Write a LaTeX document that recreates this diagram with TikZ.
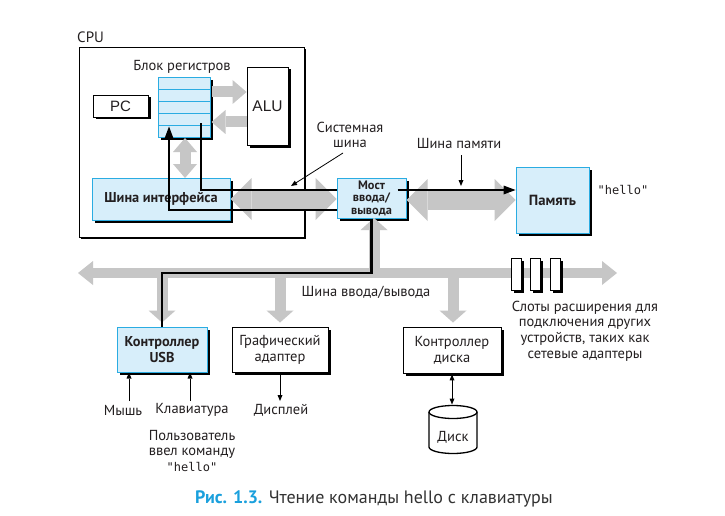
\documentclass[tikz,border=0pt]{standalone}
\usepackage{fontspec}
\setmainfont{PT Sans}
\newfontfamily\narrowsans{PT Sans}
\newfontfamily\arialfont{Liberation Sans}
\newfontfamily\codefont{DejaVu Sans Mono}
\usetikzlibrary{arrows.meta,shadows,calc}
\definecolor{boxfill}{HTML}{D7EEFA}
\definecolor{boxline}{HTML}{2AACE2}
\definecolor{busgray}{HTML}{C6C6C6}
\definecolor{txt}{HTML}{231F20}
\definecolor{capblue}{HTML}{1AA0DD}
\definecolor{capgray}{HTML}{333333}
\begin{document}
\begin{tikzpicture}[x=1pt,y=-1pt,
  shad/.style={drop shadow={shadow xshift=2.5pt,shadow yshift=-2.5pt,fill=black,opacity=1}},
  bluebox/.style={shad,draw=boxline,fill=boxfill,line width=1pt,inner sep=0pt,align=center,text=txt,font=\narrowsans\bfseries\fontsize{14.3}{15.5}\selectfont},
  whitebox/.style={shad,draw=black,fill=white,line width=0.9pt,inner sep=0pt,align=center,text=txt,font=\narrowsans\fontsize{14.5}{16}\selectfont},
  lbl/.style={inner sep=0pt,align=center,text=txt,font=\narrowsans\fontsize{14.5}{15.7}\selectfont},
  bigbus/.style={draw=busgray,line width=19pt,>={Triangle[length=21pt,width=42pt,line width=0pt]}},
  midbus/.style={draw=busgray,line width=11pt,>={Triangle[length=14pt,width=24pt,line width=0pt]}},
  dropbus/.style={draw=busgray,line width=11pt,>={Triangle[length=12pt,width=27pt,line width=0pt]}},
  blk/.style={draw=black,line width=2.2pt,>={Triangle[length=12pt,width=9pt,line width=0pt]}},
  thinarr/.style={draw=black,line width=0.8pt,>={Triangle[length=6pt,width=5pt,line width=0pt]}}
]
\useasboundingbox (0,0) rectangle (725,516);
\fill[white] (0,0) rectangle (725,516);

% CPU
\node[lbl,anchor=west,font=\narrowsans\fontsize{15}{16}\selectfont] (cpulabel) at (77,37) {CPU};
\node[draw=black,line width=1pt,fill=white,minimum width=225pt,minimum height=189pt,inner sep=0pt,
  drop shadow={shadow xshift=1.5pt,shadow yshift=-1.5pt,fill=black,opacity=1}] (cpu) at (191.5,142.5) {};

% register file
\node[lbl] (reglabel) at (182,67) {Блок регистров};
\node[shad,draw=boxline,fill=boxfill,line width=1pt,minimum width=52pt,minimum height=59pt,inner sep=0pt] (reg) at (184,107.5) {};
\foreach \yy in {89.8,101.6,113.4,125.2}
  \draw[boxline,line width=1pt] (158,\yy) -- (210,\yy);

\node[shad,draw=black,fill=white,line width=0.9pt,minimum width=55pt,minimum height=22pt,inner sep=0pt,
  font=\arialfont\fontsize{15}{16}\selectfont,text=txt] (pc) at (120.5,106) {PC};
\node[shad,draw=black,fill=white,line width=0.9pt,minimum width=41pt,minimum height=78pt,inner sep=0pt,
  font=\arialfont\fontsize{15.5}{16}\selectfont,text=txt] (alu) at (267.5,106) {ALU};

\node[bluebox,minimum width=138pt,minimum height=42pt] (bif) at (161,199) {Шина интерфейса};
\node[bluebox,minimum width=69pt,minimum height=40pt,font=\narrowsans\bfseries\fontsize{12.3}{12.5}\selectfont] (bridge) at (371.5,198) {Мост\\ввода/\\вывода};
\node[bluebox,minimum width=73pt,minimum height=66pt,font=\narrowsans\bfseries\fontsize{14.7}{16}\selectfont] (mem) at (552.5,200) {Память};
\node[lbl,font=\codefont\fontsize{12}{13}\selectfont] (memhello) at (623,190) {"hello"};

% I/O devices
\node[bluebox,minimum width=90pt,minimum height=45pt] (usb) at (162,349.5) {Контроллер\\USB};
\node[whitebox,minimum width=96pt,minimum height=45pt] (gfx) at (280,349.5) {Графический\\адаптер};
\node[whitebox,minimum width=98pt,minimum height=46pt] (dsk) at (452,350) {Контроллер\\диска};

% gray buses
\draw[midbus,->] ([xshift=1pt]reg.east |- 0,92) -- (alu.west |- 0,92);
\draw[midbus,->] (alu.west |- 0,122) -- ([xshift=1pt]reg.east |- 0,122);
\draw[midbus,<->] (185,138) -- (185,178);
\draw[bigbus,<->] (bif.east) -- (bif.east -| bridge.west);
\draw[bigbus,<->] (bridge.east |- 0,200) -- (mem.west);
\coordinate (iobusL) at (78,273);
\coordinate (iobusR) at (617,273);
\draw[dropbus,->] (374,273) -- (374,218);
\draw[dropbus,->] (usb.north |- iobusL) -- ([yshift=4pt]usb.north);
\draw[dropbus,->] (gfx.north |- iobusL) -- ([yshift=4pt]gfx.north);
\draw[dropbus,->] (453,273) -- ([yshift=4pt]dsk.north -| 453,0);
\draw[draw=busgray,line width=10pt,>={Triangle[length=15pt,width=24pt,line width=0pt]},<->] (iobusL) -- (iobusR);

% expansion slots
\node[shad,draw=black,fill=white,line width=0.9pt,minimum width=10pt,minimum height=32pt,inner sep=0pt] (s1) at (516,274) {};
\node[shad,draw=black,fill=white,line width=0.9pt,minimum width=10pt,minimum height=32pt,inner sep=0pt] (s2) at (535,274) {};
\node[shad,draw=black,fill=white,line width=0.9pt,minimum width=10pt,minimum height=32pt,inner sep=0pt] (s3) at (555,274) {};

% labels
\node[lbl] (sysbus) at (350,135) {Системная\\шина};
\node[lbl] (membus) at (459,143) {Шина памяти};
\node[lbl] (iobus) at (366,292) {Шина ввода/вывода};
\node[lbl] (slots) at (585,331) {Слоты расширения для\\подключения других\\устройств, таких как\\сетевые адаптеры};

% black data path
\draw[blk] (bridge.south) -- (bridge.south |- iobusL) -| (usb.north);
\draw[blk,->] ([yshift=-12pt]bridge.west) -| ($(reg.south)+(-15,-11)$);
\draw[blk] ($(reg.south)+(17,-14)$) |- ([yshift=8pt]bridge.west);
\coordinate (memin) at ([shift={(-9pt,8pt)}]bridge.east);
\draw[blk,->] (memin) -- (memin -| mem.west);

% pointers
\coordinate (sysptA) at (343,153);
\coordinate (sysptB) at (291,186);
\draw[thinarr,->] (sysptA) -- (sysptB);
\coordinate (memptA) at (461,155);
\coordinate (memptB) at (461,186);
\draw[thinarr,->] (memptA) -- (memptB);

% peripherals
\node[lbl] (mouse) at (123,410) {Мышь};
\node[lbl] (kbd) at (192,410) {Клавиатура};
\node[lbl] (disp) at (281,410) {Дисплей};
\node[lbl] (user) at (192,451) {Пользователь\\ввел команду\\{\codefont\fontsize{12}{13}\selectfont"hello"}};
\draw[thinarr,->] (129,401) -- (usb.south -| 129,0);
\draw[thinarr,->] (190,401) -- (usb.south -| 190,0);
\draw[thinarr,->] (gfx.south) -- (280,401);

% disk
\draw[line width=1.3pt,fill=white] (429,412) -- (429,447)
  arc[start angle=180,end angle=360,x radius=24pt,y radius=6.5pt] -- (477,412)
  arc[start angle=0,end angle=180,x radius=24pt,y radius=6.5pt] -- cycle;
\draw[line width=1.3pt] (429,412) arc[start angle=180,end angle=360,x radius=24pt,y radius=6.5pt];
\node[lbl] (disk) at (453,437) {Диск};
\coordinate (disktop) at (452,404.5);
\draw[thinarr,<->] ([yshift=-1pt]dsk.south) -- (disktop);

% caption
\node[inner sep=0pt,font=\fontsize{18}{20}\selectfont] (caption) at (374,499)
  {\textcolor{capblue}{\bfseries Рис. 1.3.} \textcolor{capgray}{Чтение команды hello с клавиатуры}};
\end{tikzpicture}
\end{document}
